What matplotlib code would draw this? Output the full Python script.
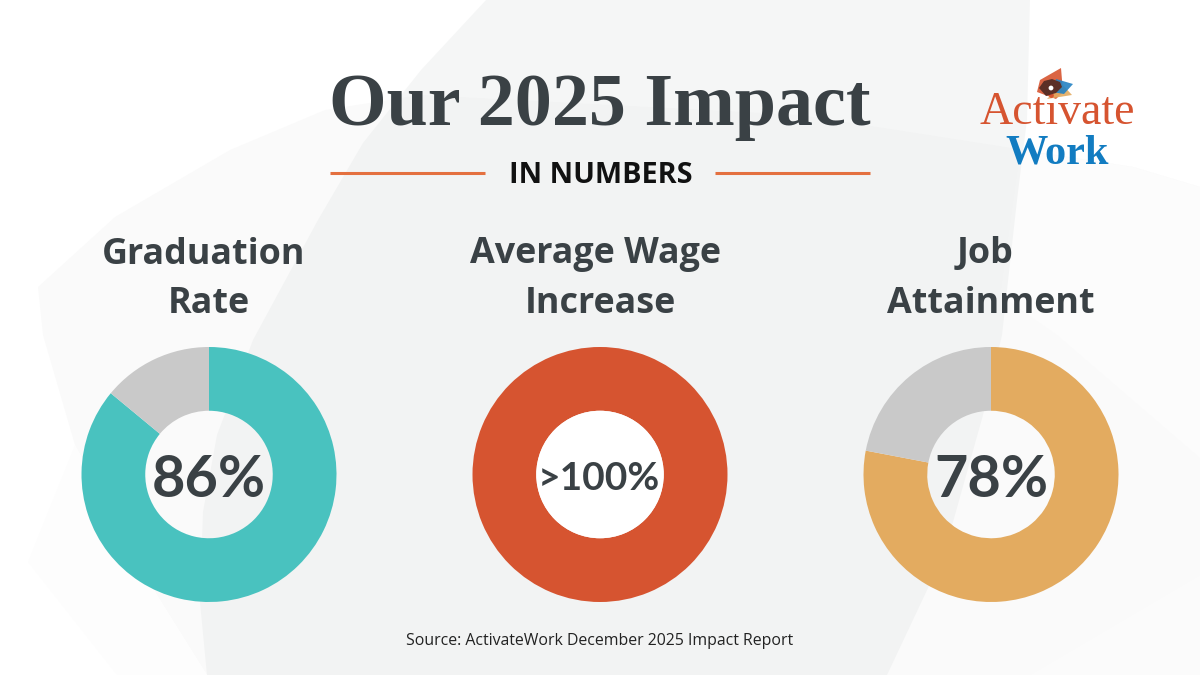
import matplotlib
matplotlib.use('Agg')
import matplotlib.pyplot as plt
from matplotlib.patches import Polygon, Circle

title_lines = [['Graduation', 'Rate'], ['Average Wage', 'Increase'], ['Job', 'Attainment']]
values = [86, 100, 78]
rest = [14, 0, 22]
labels = ['86%', '>100%', '78%']
colors = ['#49C2BF', '#D65430', '#E3AB60']
rest_color = '#C9C9C9'
dark = '#3A4145'

fig = plt.figure(figsize=(12, 6.75), dpi=100, facecolor='white')

# full figure axes in pixels, y down
bg = fig.add_axes([0, 0, 1, 1])
bg.set_xlim(0, 1200)
bg.set_ylim(675, 0)
bg.axis('off')

# faint background shapes
bg.add_patch(Polygon([(38, 287), (115, 217), (230, 150), (325, 110), (420, 95), (800, 115), (1133, 167), (1200, 187),
                      (1200, 675), (207, 675), (157, 595), (75, 445), (43, 335)],
                     fc='#FAFAFA', ec='none', zorder=0))
bg.add_patch(Polygon([(75, 445), (28, 562), (117, 675), (207, 675), (157, 595)], fc='#FDFDFD', ec='none', zorder=0))
bg.add_patch(Polygon([(1020, 150), (1133, 167), (1200, 187), (1200, 458), (1057, 335), (1000, 295)], fc='#FCFCFC', ec='none', zorder=0))
bg.add_patch(Polygon([(1200, 575), (1030, 675), (1200, 675)], fc='#FBFBFB', ec='none', zorder=0))
bg.add_patch(Polygon([(486, 0), (1030, 0), (1027, 120), (1017, 200), (1002, 335), (983, 415), (953, 522), (928, 588), (887, 675),
                      (207, 675), (200, 602), (203, 512), (217, 435), (253, 340), (318, 220), (363, 143), (421, 70)],
                     fc='#E0E3E3', alpha=0.3, ec='none', zorder=1))

bg.text(600, 125, 'Our 2025 Impact', family='Liberation Serif', weight='bold', fontsize=53.3, color=dark, ha='center', va='baseline', zorder=3)
bg.plot([330, 485], [172.7, 172.7], color='#E4703F', lw=2.2, solid_capstyle='butt', zorder=3)
bg.plot([715, 870], [172.7, 172.7], color='#E4703F', lw=2.2, solid_capstyle='butt', zorder=3)
bg.text(600.5, 182.7, 'IN NUMBERS', family='Open Sans', weight='bold', fontsize=20.7, color='#111111', ha='center', va='baseline', zorder=3)

# logo
bg.add_patch(Polygon([(1061, 68), (1040, 80), (1037, 92), (1056, 99), (1063, 92)], fc='#D65430', alpha=0.9, ec='none', zorder=3))
bg.add_patch(Polygon([(1047, 99), (1072, 95), (1062, 84)], fc='#E3AB60', alpha=0.9, ec='none', zorder=3))
bg.add_patch(Polygon([(1056, 79), (1073, 84), (1064, 94), (1052, 92)], fc='#2382C4', alpha=0.9, ec='none', zorder=3))
bg.add_patch(Polygon([(1039, 88), (1044, 81), (1052, 79), (1060, 82), (1062, 87), (1056, 93), (1046, 96)], fc='#5B2F26', ec='none', zorder=4))
bg.add_patch(Circle((1051, 88), 2.4, fc='white', ec='none', zorder=5))
bg.text(1057, 124, 'Activate', family='Liberation Serif', fontsize=33, color='#D65430', ha='center', va='baseline', zorder=3)
bg.text(1057.5, 163, 'Work', family='Liberation Serif', weight='bold', fontsize=30.5, color='#127CC1', ha='center', va='baseline', zorder=3)

centers = [209, 600, 991]
first_x = [204, 595, 985]
for i in range(3):
    cx = centers[i]
    bg.text(first_x[i], 263.5, title_lines[i][0], family='Open Sans', weight='bold', fontsize=25.8,
            color=dark, ha='center', va='baseline', zorder=3)
    bg.text(cx, 313, title_lines[i][1], family='Open Sans', weight='bold', fontsize=25.8,
            color=dark, ha='center', va='baseline', zorder=3)

    ax = fig.add_axes([(cx - 127.5) / 1200, (675 - 602) / 675, 255 / 1200, 255 / 675])
    ax.set_zorder(2)
    ax.patch.set_alpha(0)
    if rest[i] > 0:
        sizes = [values[i], rest[i]]
        cols = [colors[i], rest_color]
    else:
        sizes = [values[i]]
        cols = [colors[i]]
    ax.pie(sizes, colors=cols, startangle=90, counterclock=False, radius=1,
           wedgeprops=dict(width=0.5, linewidth=0))
    ax.set_xlim(-1, 1)
    ax.set_ylim(-1, 1)
    if i == 1:
        ax.add_patch(Circle((0, 0), 0.5, fc='white', ec='none'))
        ax.text(-0.01, -0.125, labels[i], family='Lato', weight='bold', fontsize=28, color=dark, ha='center', va='baseline')
    else:
        ax.text(0, -0.18, labels[i], family='Lato', weight='bold', fontsize=41.5, color=dark, ha='center', va='baseline')

bg.text(600, 645, 'Source: ActivateWork December 2025 Impact Report', family='Open Sans', fontsize=11.4, color='#222222', ha='center', va='baseline', zorder=3)

fig.savefig('out.png', dpi=100)
